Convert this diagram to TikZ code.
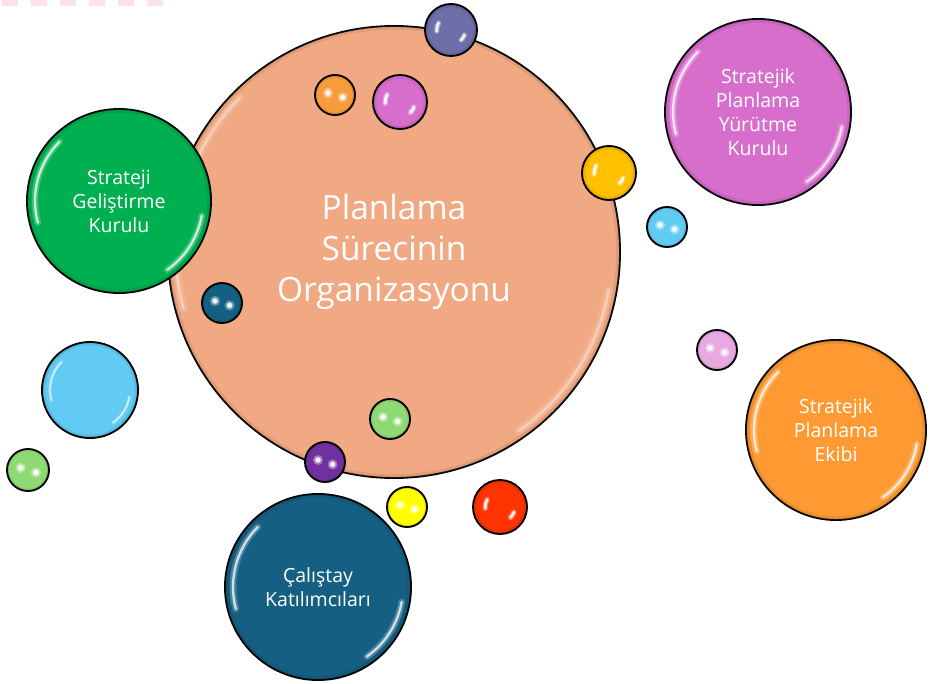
\documentclass[tikz,border=0pt]{standalone}
\usepackage{fontspec}
\setmainfont{Open Sans}

\definecolor{peach}{HTML}{F1A983}
\definecolor{leaf}{HTML}{00B050}
\definecolor{orchid}{HTML}{D86ECC}
\definecolor{tangerine}{HTML}{FF9A33}
\definecolor{deepteal}{HTML}{156082}
\definecolor{slate}{HTML}{6E6EA8}
\definecolor{apricot}{HTML}{F79B3C}
\definecolor{gold}{HTML}{FFC000}
\definecolor{sky}{HTML}{61CBF3}
\definecolor{mint}{HTML}{8ED973}
\definecolor{violet}{HTML}{7030A0}
\definecolor{lemon}{HTML}{FFFF00}
\definecolor{scarlet}{HTML}{FF3300}
\definecolor{blush}{HTML}{E8A8E0}
\definecolor{stripe}{HTML}{FDE2E6}

\begin{document}
\begin{tikzpicture}[x=1pt,y=-1pt,
        ball/.style={circle, draw=black, line width=1.9pt, fill=#1, inner sep=0pt},
        gloss/.style={white, line cap=round},
        caption/.style={text=white, align=center, font=\fontsize{19.5}{24}\selectfont},
        title/.style={text=white, align=center, font=\fontsize{33.5}{41}\selectfont}]
    \useasboundingbox (0,0) rectangle (933,684);

    % faded stripe on the top edge
    \draw[stripe, line width=6pt, dash pattern=on 16pt off 13pt] (2,3) -- (166,3);

    % big bubbles, rim shade and two light streaks
    \foreach \n/\x/\y/\r/\c/\o in {main/394/252/226/peach/.35, sgk/119/201/92/leaf/.75,
        spyk/758/112/93/orchid/.75, spe/836/430/90/tangerine/.75, cal/318/587/93/deepteal/.75,
        skybig/90/390/48/sky/.75} {
        \node[ball=\c, minimum size=2*\r pt] (\n) at (\x,\y) {};
        \draw[\c!70!black, opacity=.25, line width={min(.05*\r,3.5)*1pt}] (\n.center) circle[radius=\r-2];
        \draw[gloss, opacity=.3*\o, line width={min(.07*\r,9)*1pt}] (\n.center) ++(165:\r-8) arc[start angle=165, end angle=225, radius=\r-8];
        \draw[gloss, opacity=\o, line width={min(.025*\r,3)*1pt}] (\n.center) ++(165:\r-8) arc[start angle=165, end angle=225, radius=\r-8];
        \draw[gloss, opacity=.3*\o, line width={min(.07*\r,9)*1pt}] (\n.center) ++(10:\r-8) arc[start angle=10, end angle=55, radius=\r-8];
        \draw[gloss, opacity=\o, line width={min(.025*\r,3)*1pt}] (\n.center) ++(10:\r-8) arc[start angle=10, end angle=55, radius=\r-8];
    }

    \node[title] (plan) at (main) {Planlama\\Sürecinin\\Organizasyonu};
    \node[caption] (sgktext) at (sgk) {Strateji\\Geliştirme\\Kurulu};
    \node[caption] (spyktext) at (spyk) {Stratejik\\Planlama\\Yürütme\\Kurulu};
    \node[caption] (spetext) at (spe) {Stratejik\\Planlama\\Ekibi};
    \node[caption] (caltext) at (cal) {Çalıştay\\Katılımcıları};

    % medium bubbles with short streaks
    \foreach \n/\x/\y/\r/\c in {sl/451/30/26/slate, orc/400/102/27/orchid,
        gd/609/173/27/gold, sc/500/507/27/scarlet} {
        \node[ball=\c, minimum size=2*\r pt] (\n) at (\x,\y) {};
        \draw[\c!70!black, opacity=.25, line width={.08*\r*1pt}] (\n.center) circle[radius=.92*\r];
        \draw[gloss, opacity=.35, line width={.2*\r*1pt}] (\n.center) ++(175:.55*\r) arc[start angle=175, end angle=210, radius=.55*\r];
        \draw[gloss, opacity=.9, line width={.1*\r*1pt}] (\n.center) ++(175:.55*\r) arc[start angle=175, end angle=210, radius=.55*\r];
        \draw[gloss, opacity=.35, line width={.2*\r*1pt}] (\n.center) ++(20:.55*\r) arc[start angle=20, end angle=45, radius=.55*\r];
        \draw[gloss, opacity=.9, line width={.1*\r*1pt}] (\n.center) ++(20:.55*\r) arc[start angle=20, end angle=45, radius=.55*\r];
    }

    % small bubbles with two light dots
    \foreach \n/\x/\y/\r/\c in {ap/335/95/20/apricot, sk/667/227/20/sky,
        dt/222/303/20/deepteal, mt/390/419/20/mint, vi/325/462/20/violet,
        le/407/507/20/lemon, bl/717/350/20/blush, mtb/28/470/21/mint} {
        \node[ball=\c, minimum size=2*\r pt] (\n) at (\x,\y) {};
        \draw[\c!70!black, opacity=.2, line width={.08*\r*1pt}] (\n.center) circle[radius=.92*\r];
        \fill[white, opacity=.35] (\n.center) ++(-.35*\r,-.1*\r) circle[radius=.25*\r];
        \fill[white, opacity=.9] (\n.center) ++(-.35*\r,-.1*\r) circle[radius=.14*\r];
        \fill[white, opacity=.35] (\n.center) ++(.38*\r,.12*\r) circle[radius=.25*\r];
        \fill[white, opacity=.9] (\n.center) ++(.38*\r,.12*\r) circle[radius=.14*\r];
    }
\end{tikzpicture}
\end{document}
